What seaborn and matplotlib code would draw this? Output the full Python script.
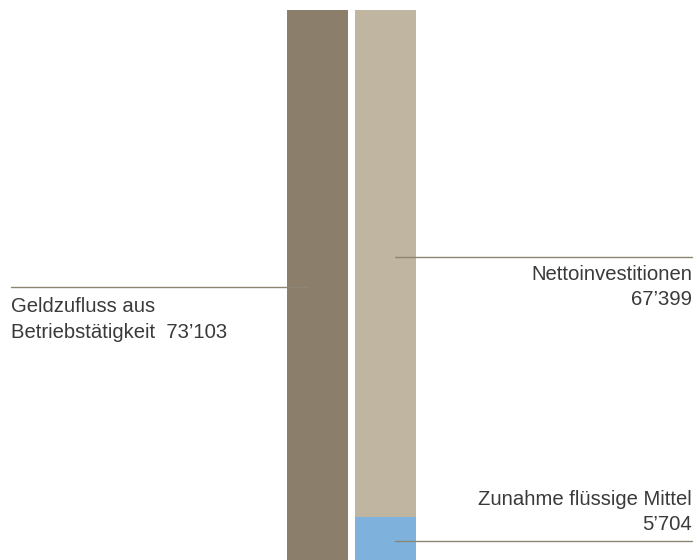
import matplotlib
matplotlib.use("Agg")
import matplotlib.pyplot as plt
import seaborn as sns
import pandas as pd

# data
categories = ["Mittelherkunft", "Mittelverwendung"]
inflow = [73103, 0]
investments = [0, 67399]
liquidity = [0, 5704]
labels = ["Geldzufluss aus\nBetriebstätigkeit  73\u2019103",
          "Nettoinvestitionen\n67\u2019399",
          "Zunahme flüssige Mittel\n5\u2019704"]

dark, beige, blue = "#8B7F6C", "#BFB5A0", "#7EB2DC"
line_col = "#8C8574"
text_col = "#3a3a3a"

sns.set_theme(style="white")
plt.rcParams['font.family'] = ['Liberation Sans', 'DejaVu Sans']

W, H = 697, 560
fig = plt.figure(figsize=(W / 100, H / 100), dpi=100)
ax = fig.add_axes([0, 0, 1, 1 - 10 / H])

df = pd.DataFrame({"cat": categories,
                   "top": [inflow[0], investments[1] + liquidity[1]],
                   "liq": liquidity})
bw = 61 / 68
sns.barplot(data=df, x="cat", y="top", hue="cat", palette=[dark, beige],
            width=bw, legend=False, ax=ax, saturation=1, linewidth=0)
sns.barplot(data=df, x="cat", y="liq", color=blue,
            width=bw, ax=ax, saturation=1, linewidth=0)

ax.set_xlim(-317.5 / 68, (W - 317.5) / 68)
ax.set_ylim(0, inflow[0])
ax.axis("off")

def fx(x):
    return x / W

def fy(y):
    return 1 - y / H

# leader lines (pixel layout)
for (x0, x1, y) in [(11, 308, 287), (395, 692, 257), (395, 692, 541)]:
    fig.add_artist(plt.Line2D([fx(x0), fx(x1)], [fy(y), fy(y)],
                              color=line_col, lw=1.0, transform=fig.transFigure))

fs = 14.6
ls = 1.4
fig.text(fx(11), fy(319.5), labels[0], ha="left", va="center", fontsize=fs,
         color=text_col, linespacing=ls)
fig.text(fx(692), fy(287), labels[1], ha="right", va="center", fontsize=fs,
         color=text_col, linespacing=ls)
fig.text(fx(692), fy(512), labels[2], ha="right", va="center", fontsize=fs,
         color=text_col, linespacing=ls)

fig.savefig("out.png", dpi=100)
